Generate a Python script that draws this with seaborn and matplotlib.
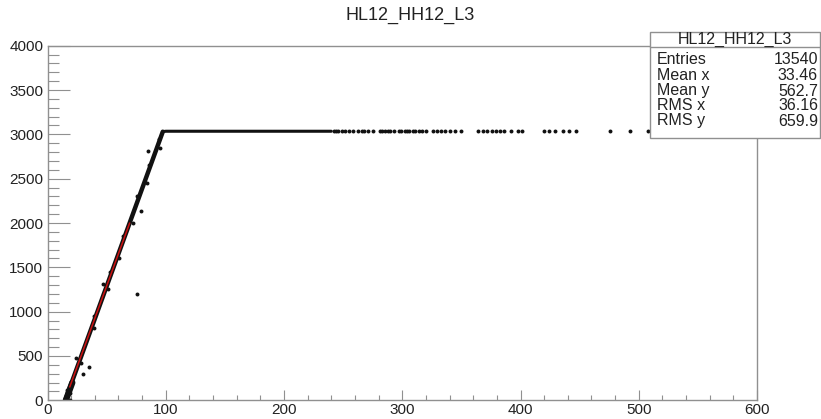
import matplotlib
matplotlib.use("Agg")
import matplotlib.pyplot as plt
from matplotlib.patches import Rectangle
from matplotlib.ticker import MultipleLocator
import seaborn as sns

# ---- data ----
title = "HL12_HH12_L3"
stats_labels = ["Entries", "Mean x", "Mean y", "RMS x", "RMS y"]
stats_values = ["13540", "33.46", "562.7", "36.16", "659.9"]

# dense ridge (rising part and saturated plateau)
rise_x = [15, 97.5]
rise_y = [0, 3030]
low_x = [15.5, 21]
low_y = [0, 200]
plateau_x = [97.5, 100, 240]
plateau_y = [3030, 3035, 3035]

# sparse points on the plateau
sparse_x = [242, 244, 246, 249, 252, 255, 258, 263, 266, 268, 271, 275,
            281, 283, 285, 288, 290, 293, 297, 299, 302, 304, 306, 309,
            311, 314, 317, 320, 326, 329, 333, 336, 340, 345, 350,
            364, 368, 372, 376, 379, 383, 386, 392, 398, 401,
            420, 424, 429, 436, 441, 447,
            476, 493, 508]
sparse_y = [3035] * len(sparse_x)

# points scattered around the rising band, plus outliers
edge_x = [16, 19, 15.5, 19, 16.5, 28.5, 24.5, 39.5, 39, 51, 52.8, 60.8, 63.8,
          72, 76, 84, 85.8, 95, 94,
          85.3, 79.1, 76, 46.7, 34.8, 30.3]
edge_y = [0, 0, 30, 80, 120, 420, 480, 820, 950, 1250, 1450, 1600, 1850,
          2000, 2300, 2450, 2650, 2850, 2950,
          2816, 2139, 1196, 1308, 379, 297]

# red fit line
fit_x = [18.8, 69.5]
fit_y = [150, 2000]

# ---- figure ----
sns.set_theme(style="white")
plt.rcParams['font.family'] = ['Liberation Sans Narrow', 'Liberation Sans', 'DejaVu Sans']

W, H = 821, 419
fig = plt.figure(figsize=(W / 100, H / 100), dpi=100)
ax = fig.add_axes([47.5 / W, 1 - 400.3 / H, (757 - 47.5) / W, (400.3 - 45.7) / H])

black = "#111111"
sns.lineplot(x=low_x, y=low_y, ax=ax, color=black, linewidth=4.5, sort=False, estimator=None)
sns.lineplot(x=rise_x, y=rise_y, ax=ax, color=black, linewidth=3.2, sort=False, estimator=None)
sns.lineplot(x=plateau_x, y=plateau_y, ax=ax, color=black, linewidth=2.2, sort=False, estimator=None)
sns.scatterplot(x=sparse_x, y=sparse_y, ax=ax, color=black, marker="o", s=8, linewidth=0)
sns.scatterplot(x=edge_x, y=edge_y, ax=ax, color=black, marker="o", s=8, linewidth=0)
sns.lineplot(x=fit_x, y=fit_y, ax=ax, color="#cc1111", linewidth=1.1, sort=False, estimator=None)

ax.set_xlim(0, 600)
ax.set_ylim(0, 4000)
ax.xaxis.set_major_locator(MultipleLocator(100))
ax.xaxis.set_minor_locator(MultipleLocator(20))
ax.yaxis.set_major_locator(MultipleLocator(500))
ax.yaxis.set_minor_locator(MultipleLocator(100))
frame_col = "#909090"
for sp in ax.spines.values():
    sp.set_color(frame_col)
    sp.set_linewidth(1.0)
ax.tick_params(axis="x", which="major", direction="in", length=7.2, width=0.8,
               color=frame_col, labelsize=11, labelcolor="#222222", pad=2, bottom=True)
ax.tick_params(axis="x", which="minor", direction="in", length=3.6, width=0.8,
               color=frame_col, bottom=True)
ax.tick_params(axis="y", which="major", direction="in", length=15.8, width=0.8,
               color=frame_col, labelsize=11, labelcolor="#222222", pad=3, left=True)
ax.tick_params(axis="y", which="minor", direction="in", length=7.9, width=0.8,
               color=frame_col, left=True)
ax.set_xlabel("")
ax.set_ylabel("")

fig.text(0.5, 1 - 15 / H, title, ha="center", va="center", fontsize=13, color="#222222")

# stats box
bx0, by0, bx1, by1 = 650, 32, 820, 138
fig.patches.append(Rectangle((bx0 / W, 1 - by1 / H), (bx1 - bx0) / W, (by1 - by0) / H,
                             transform=fig.transFigure, facecolor="white",
                             edgecolor=frame_col, linewidth=1.0, zorder=5))
fig.lines.append(plt.Line2D([bx0 / W, bx1 / W], [1 - 47 / H, 1 - 47 / H],
                            transform=fig.transFigure, color=frame_col, linewidth=1.0, zorder=6))
fig.text((bx0 + bx1) / 2 / W, 1 - 39.5 / H, title, ha="center", va="center",
         fontsize=11.5, color="#222222", zorder=7)
rows_y = [60, 76, 91, 106, 121]
for lab, val, yy in zip(stats_labels, stats_values, rows_y):
    fig.text(657 / W, 1 - yy / H, lab, ha="left", va="center", fontsize=11.5, color="#222222", zorder=7)
    fig.text(818 / W, 1 - yy / H, val, ha="right", va="center", fontsize=11.5, color="#222222", zorder=7)

fig.savefig("out.png", dpi=100)
